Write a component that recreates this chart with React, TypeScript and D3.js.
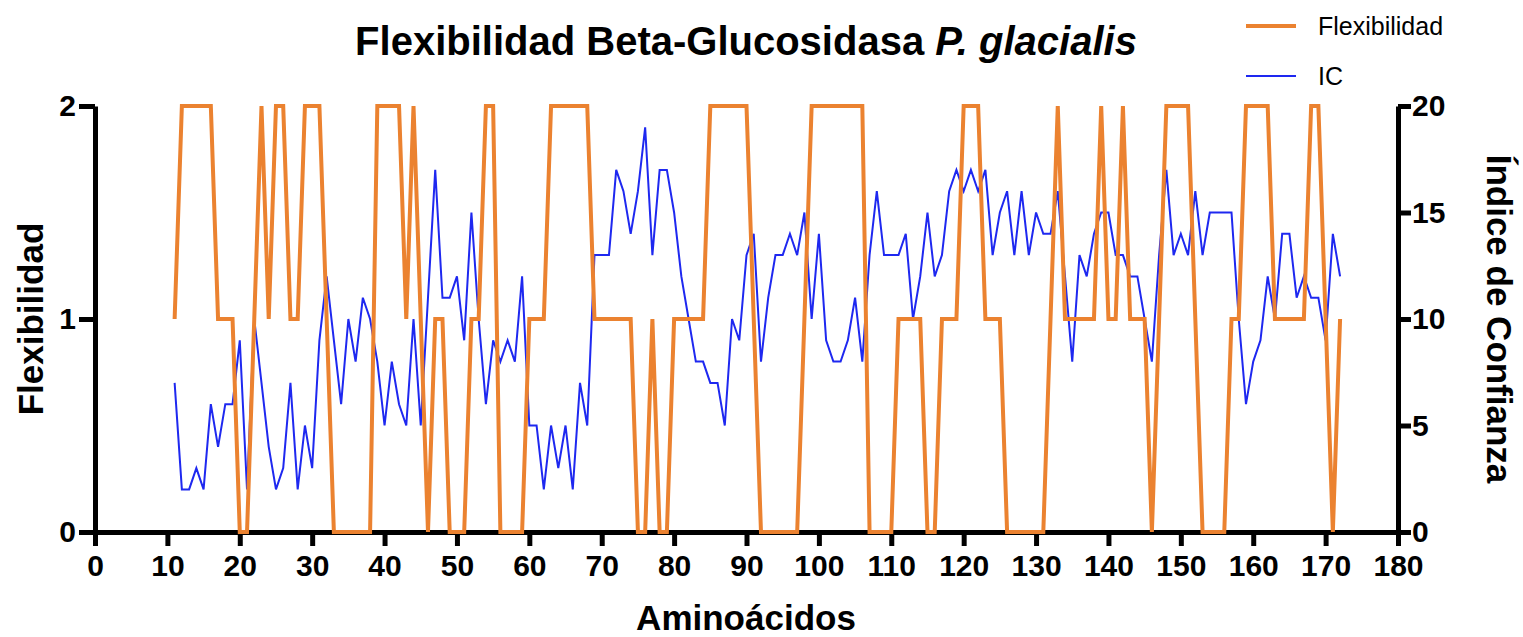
import React, { useRef, useEffect } from 'react';
import * as d3 from 'd3';

// Residues 11..172
const FIRST_RESIDUE = 11;

// Flexibility per residue (0, 1, 2)
const FLEX = [
  1, 2, 2, 2, 2, 2, 1, 1, 1, 0,
  0, 1, 2, 1, 2, 2, 1, 1, 2, 2,
  2, 1, 0, 0, 0, 0, 0, 0, 2, 2,
  2, 2, 1, 2, 1, 0, 1, 1, 0, 0,
  0, 1, 1, 2, 2, 0, 0, 0, 0, 1,
  1, 1, 2, 2, 2, 2, 2, 2, 1, 1,
  1, 1, 1, 1, 0, 0, 1, 0, 0, 1,
  1, 1, 1, 1, 2, 2, 2, 2, 2, 2,
  1, 0, 0, 0, 0, 0, 0, 1, 2, 2,
  2, 2, 2, 2, 2, 2, 0, 0, 0, 0,
  1, 1, 1, 1, 0, 0, 1, 1, 1, 2,
  2, 2, 1, 1, 1, 0, 0, 0, 0, 0,
  0, 1, 2, 1, 1, 1, 1, 1, 2, 1,
  1, 2, 1, 1, 1, 0, 1, 2, 2, 2,
  2, 1, 0, 0, 0, 0, 1, 1, 2, 2,
  2, 2, 1, 1, 1, 1, 1, 2, 2, 1,
  0, 1,
];

// Confidence index (IC) per residue
const IC = [
  7, 2, 2, 3, 2, 6, 4, 6, 6, 9,
  2, 10, 7, 4, 2, 3, 7, 2, 5, 3,
  9, 12, 9, 6, 10, 8, 11, 10, 8, 5,
  8, 6, 5, 10, 5, 11, 17, 11, 11, 12,
  9, 15, 10, 6, 9, 8, 9, 8, 12, 5,
  5, 2, 5, 3, 5, 2, 7, 5, 13, 13,
  13, 17, 16, 14, 16, 19, 13, 17, 17, 15,
  12, 10, 8, 8, 7, 7, 5, 10, 9, 13,
  14, 8, 11, 13, 13, 14, 13, 15, 10, 14,
  9, 8, 8, 9, 11, 8, 13, 16, 13, 13,
  13, 14, 10, 12, 15, 12, 13, 16, 17, 16,
  17, 16, 17, 13, 15, 16, 13, 16, 13, 15,
  14, 14, 16, 12, 8, 13, 12, 14, 15, 15,
  13, 13, 12, 12, 10, 8, 13, 17, 13, 14,
  13, 16, 13, 15, 15, 15, 15, 10, 6, 8,
  9, 12, 10, 14, 14, 11, 12, 11, 11, 9,
  14, 12,
];

const X_TICKS = d3.range(0, 181, 10);
const LEFT_TICKS = [0, 1, 2];
const RIGHT_TICKS = [0, 5, 10, 15, 20];

const ORANGE = '#EB8230';
const BLUE = '#1E28F0';
const FONT = '"Liberation Sans", Arial, Helvetica, sans-serif';

const W = 1523;
const H = 637;

const App: React.FC = () => {
  const ref = useRef<SVGSVGElement>(null);

  useEffect(() => {
    if (!ref.current) return;
    const svg = d3.select(ref.current);
    svg.selectAll('*').remove();

    const left = 95;
    const right = 1398;
    const top = 106;
    const bottom = 532;

    const x = d3.scaleLinear().domain([0, 180]).range([left, right]);
    const yL = d3.scaleLinear().domain([0, 2]).range([bottom, top]);
    const yR = d3.scaleLinear().domain([0, 20]).range([bottom, top]);

    const flexData = FLEX.map((v, i) => ({ r: FIRST_RESIDUE + i, v }));
    const icData = IC.map((v, i) => ({ r: FIRST_RESIDUE + i, v }));

    const styleAxis = (g: d3.Selection<SVGGElement, unknown, null, undefined>) => {
      g.select('.domain').attr('stroke', '#000').attr('stroke-width', 5);
      g.selectAll('.tick line').attr('stroke', '#000').attr('stroke-width', 5);
      g.selectAll('.tick text')
        .attr('fill', '#000')
        .style('font-family', FONT)
        .style('font-weight', 'bold')
        .style('font-size', '30px');
    };

    // X axis
    const gx = svg
      .append('g')
      .attr('transform', `translate(0,${bottom})`)
      .call(d3.axisBottom(x).tickValues(X_TICKS).tickSize(14).tickSizeOuter(0).tickPadding(9));
    styleAxis(gx);

    // Left axis
    const gl = svg
      .append('g')
      .attr('transform', `translate(${left},0)`)
      .call(
        d3.axisLeft(yL).tickValues(LEFT_TICKS).tickFormat(d3.format('d')).tickSize(16).tickSizeOuter(0).tickPadding(3)
      );
    styleAxis(gl);

    // Right axis
    const gr = svg
      .append('g')
      .attr('transform', `translate(${right},0)`)
      .call(
        d3.axisRight(yR).tickValues(RIGHT_TICKS).tickFormat(d3.format('d')).tickSize(13).tickSizeOuter(0).tickPadding(1)
      );
    styleAxis(gr);

    // IC line (behind)
    svg
      .append('path')
      .datum(icData)
      .attr('fill', 'none')
      .attr('stroke', BLUE)
      .attr('stroke-width', 2)
      .attr(
        'd',
        d3
          .line<{ r: number; v: number }>()
          .x((d) => x(d.r))
          .y((d) => yR(d.v))
      );

    // Flexibility line (drawn over the axes, as in the original)
    svg
      .append('path')
      .datum(flexData)
      .attr('fill', 'none')
      .attr('stroke', ORANGE)
      .attr('stroke-width', 4)
      .attr(
        'd',
        d3
          .line<{ r: number; v: number }>()
          .x((d) => x(d.r))
          .y((d) => yL(d.v))
      );

    // Title
    const title = svg
      .append('text')
      .attr('x', 746)
      .attr('y', 55)
      .attr('text-anchor', 'middle')
      .style('font-family', FONT)
      .style('font-weight', 'bold')
      .style('font-size', '40px')
      .attr('fill', '#000');
    title.append('tspan').text('Flexibilidad Beta-Glucosidasa ');
    title.append('tspan').style('font-style', 'italic').text('P. glacialis');

    // X label
    svg
      .append('text')
      .attr('x', 746)
      .attr('y', 630)
      .attr('text-anchor', 'middle')
      .style('font-family', FONT)
      .style('font-weight', 'bold')
      .style('font-size', '35px')
      .text('Aminoácidos');

    // Left label
    svg
      .append('text')
      .attr('transform', `translate(43,319) rotate(-90)`)
      .attr('text-anchor', 'middle')
      .style('font-family', FONT)
      .style('font-weight', 'bold')
      .style('font-size', '35px')
      .text('Flexibilidad');

    // Right label
    svg
      .append('text')
      .attr('transform', `translate(1487,319) rotate(90)`)
      .attr('text-anchor', 'middle')
      .style('font-family', FONT)
      .style('font-weight', 'bold')
      .style('font-size', '35px')
      .text('Índice de Confianza');

    // Legend
    const legend = [
      { label: 'Flexibilidad', color: ORANGE, width: 4, y: 26 },
      { label: 'IC', color: BLUE, width: 2, y: 76 },
    ];
    legend.forEach((l) => {
      svg
        .append('line')
        .attr('x1', 1246)
        .attr('x2', 1296)
        .attr('y1', l.y)
        .attr('y2', l.y)
        .attr('stroke', l.color)
        .attr('stroke-width', l.width);
      svg
        .append('text')
        .attr('x', 1318)
        .attr('y', l.y)
        .attr('dy', '0.35em')
        .style('font-family', FONT)
        .style('font-size', '25px')
        .attr('fill', '#000')
        .text(l.label);
    });
  }, []);

  return (
    <svg
      ref={ref}
      width={W}
      height={H}
      style={{ position: 'absolute', left: 0, top: 0, background: '#fff' }}
    />
  );
};

export default App;
